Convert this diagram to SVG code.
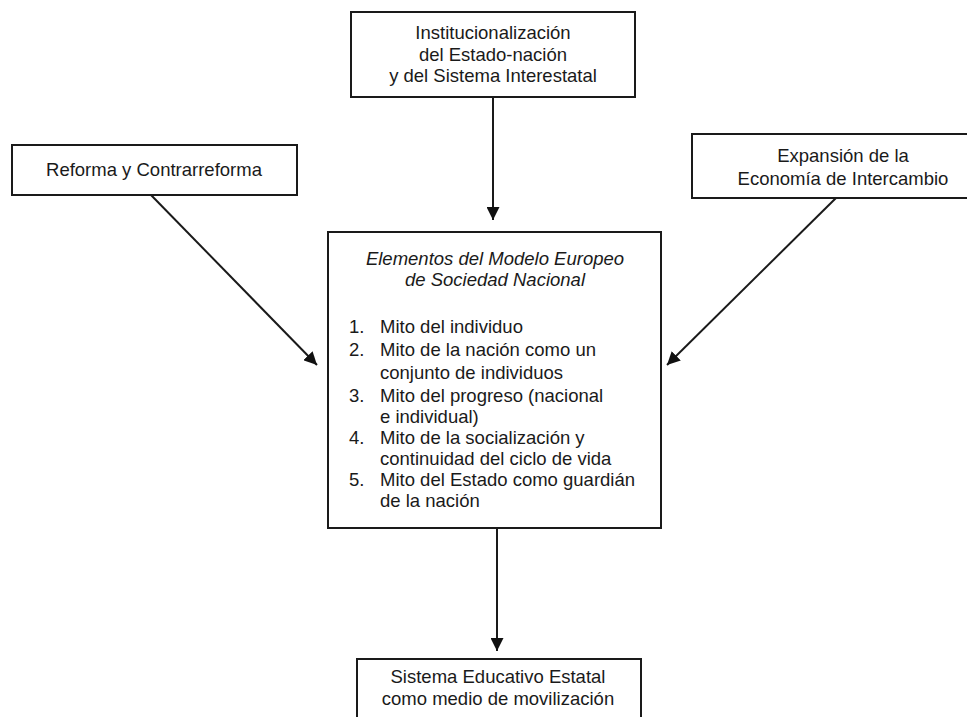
<svg xmlns="http://www.w3.org/2000/svg" width="967" height="717" viewBox="0 0 967 717">
<defs>
<marker id="arr" viewBox="0 0 10 10" refX="10" refY="5" markerWidth="13" markerHeight="13" markerUnits="userSpaceOnUse" orient="auto">
<path d="M0,0 L10,5 L0,10 Z" fill="#111"/>
</marker>
<style>
.box{fill:#fff;stroke:#1a1a1a;stroke-width:2}
.t{font-family:"Liberation Sans",Arial,sans-serif;font-size:18.5px;fill:#1a1a1a}
.c{text-anchor:middle}
.i{font-style:italic}
.ln{stroke:#1a1a1a;stroke-width:2;fill:none}
</style>
</defs>
<rect width="967" height="717" fill="#fff"/>
<g id="connectors">
<line class="ln" x1="493" y1="97" x2="493" y2="220" marker-end="url(#arr)"/>
<line class="ln" x1="151" y1="195" x2="317" y2="365" marker-end="url(#arr)"/>
<line class="ln" x1="837" y1="197" x2="667" y2="365" marker-end="url(#arr)"/>
<line class="ln" x1="497" y1="528" x2="497" y2="651" marker-end="url(#arr)"/>
</g>
<g id="node-top">
<rect class="box" x="351" y="12" width="284" height="85"/>
<text class="t c" x="493" y="39">Institucionalización</text>
<text class="t c" x="493" y="61">del Estado-nación</text>
<text class="t c" x="493" y="82">y del Sistema Interestatal</text>
</g>
<g id="node-left">
<rect class="box" x="12" y="145" width="285" height="50"/>
<text class="t c" x="154" y="176">Reforma y Contrarreforma</text>
</g>
<g id="node-right">
<rect class="box" x="692" y="134" width="290" height="64"/>
<text class="t c" x="843" y="162">Expansión de la</text>
<text class="t c" x="843" y="185">Economía de Intercambio</text>
</g>
<g id="node-center">
<rect class="box" x="328" y="232" width="333" height="296"/>
<text class="t c i" x="495" y="265">Elementos del Modelo Europeo</text>
<text class="t c i" x="495" y="286">de Sociedad Nacional</text>
<text class="t" x="349" y="333">1.</text><text class="t" x="380" y="333">Mito del individuo</text>
<text class="t" x="349" y="356">2.</text><text class="t" x="380" y="356">Mito de la nación como un</text>
<text class="t" x="380" y="379">conjunto de individuos</text>
<text class="t" x="349" y="402">3.</text><text class="t" x="380" y="402">Mito del progreso (nacional</text>
<text class="t" x="380" y="423">e individual)</text>
<text class="t" x="349" y="444">4.</text><text class="t" x="380" y="444">Mito de la socialización y</text>
<text class="t" x="380" y="465">continuidad del ciclo de vida</text>
<text class="t" x="349" y="486">5.</text><text class="t" x="380" y="486">Mito del Estado como guardián</text>
<text class="t" x="380" y="507">de la nación</text>
</g>
<g id="node-bottom">
<rect class="box" x="357" y="659" width="284" height="70"/>
<text class="t c" x="498" y="683">Sistema Educativo Estatal</text>
<text class="t c" x="498" y="705">como medio de movilización</text>
</g>
</svg>
